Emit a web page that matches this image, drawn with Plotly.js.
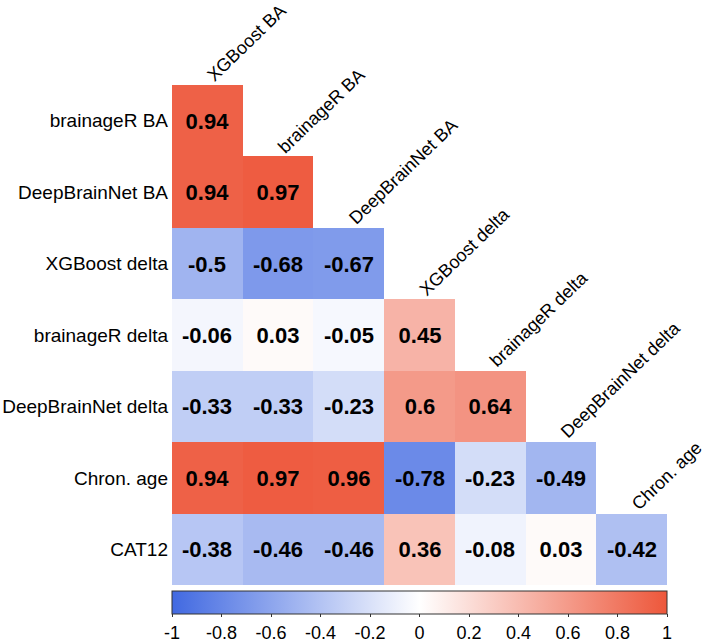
<!DOCTYPE html>
<html>
<head>
<meta charset="utf-8">
<script src="https://cdn.plot.ly/plotly-3.0.1.min.js"></script>
<style>html,body{margin:0;padding:0;background:#fff;}#chart{width:709px;height:642px;}</style>
</head>
<body>
<div id="chart"></div>
<script>
// Row labels (top to bottom) and column labels (left to right)
var rowLabels = ["brainageR BA", "DeepBrainNet BA", "XGBoost delta", "brainageR delta", "DeepBrainNet delta", "Chron. age", "CAT12"];
var colLabels = ["XGBoost BA", "brainageR BA", "DeepBrainNet BA", "XGBoost delta", "brainageR delta", "DeepBrainNet delta", "Chron. age"];

// Lower-triangle correlations, one array per row
var rowBrainageRBA      = [0.94];
var rowDeepBrainNetBA   = [0.94, 0.97];
var rowXGBoostDelta     = [-0.5, -0.68, -0.67];
var rowBrainageRDelta   = [-0.06, 0.03, -0.05, 0.45];
var rowDeepBrainNetDelta= [-0.33, -0.33, -0.23, 0.6, 0.64];
var rowChronAge         = [0.94, 0.97, 0.96, -0.78, -0.23, -0.49];
var rowCAT12            = [-0.38, -0.46, -0.46, 0.36, -0.08, 0.03, -0.42];

var rows = [rowBrainageRBA, rowDeepBrainNetBA, rowXGBoostDelta, rowBrainageRDelta, rowDeepBrainNetDelta, rowChronAge, rowCAT12];
var colorbarTicks = [-1, -0.8, -0.6, -0.4, -0.2, 0, 0.2, 0.4, 0.6, 0.8, 1];

var nC = colLabels.length;
var z = [], txt = [];
rows.forEach(function (r) {
  var zr = [], tr = [];
  for (var j = 0; j < nC; j++) {
    if (j < r.length) { zr.push(r[j]); tr.push(String(r[j])); }
    else { zr.push(null); tr.push(""); }
  }
  z.push(zr); txt.push(tr);
});
var xIdx = colLabels.map(function (_, i) { return i; });
var yIdx = rowLabels.map(function (_, i) { return i; });

var font = "Liberation Sans, Arial, Helvetica, sans-serif";

var trace = {
  type: "heatmap",
  x: xIdx, y: yIdx, z: z,
  text: txt,
  texttemplate: "%{text}",
  textfont: {family: font, size: 22, color: "#000", weight: "bold"},
  zmin: -1, zmax: 1,
  colorscale: [[0, "#4169E1"], [0.5, "#FFFFFF"], [1, "#ED573B"]],
  hoverongaps: false,
  colorbar: {
    orientation: "h",
    x: 0.5, xanchor: "center",
    y: -0.012, yanchor: "top",
    len: 1, lenmode: "fraction",
    thickness: 23,
    xpad: 0, ypad: 0,
    outlinewidth: 1, outlinecolor: "#333",
    ticks: "outside", ticklen: 3, tickcolor: "#333",
    tickvals: colorbarTicks,
    ticktext: colorbarTicks.map(String),
    tickfont: {family: font, size: 18, color: "#000"}
  }
};

var annotations = colLabels.map(function (lab, j) {
  return {
    x: j, y: j - 0.5, xref: "x", yref: "y",
    text: lab, showarrow: false, textangle: -44,
    xanchor: "left", yanchor: "bottom",
    xshift: -7, yshift: -3,
    font: {family: font, size: 18, color: "#000"}
  };
});

var layout = {
  width: 709, height: 642,
  margin: {l: 172, r: 42, t: 85, b: 57, autoexpand: false},
  paper_bgcolor: "#fff", plot_bgcolor: "#fff",
  xaxis: {range: [-0.5, nC - 0.5], showgrid: false, zeroline: false, showticklabels: false, ticks: "", fixedrange: true},
  yaxis: {range: [rowLabels.length - 0.5, -0.5], showgrid: false, zeroline: false,
          tickvals: yIdx, ticktext: rowLabels, ticks: "", ticklabelstandoff: 3,
          tickfont: {family: font, size: 19, color: "#000"}},
  annotations: annotations,
  showlegend: false
};

Plotly.newPlot("chart", [trace], layout, {displayModeBar: false, staticPlot: true});
</script>
</body>
</html>
